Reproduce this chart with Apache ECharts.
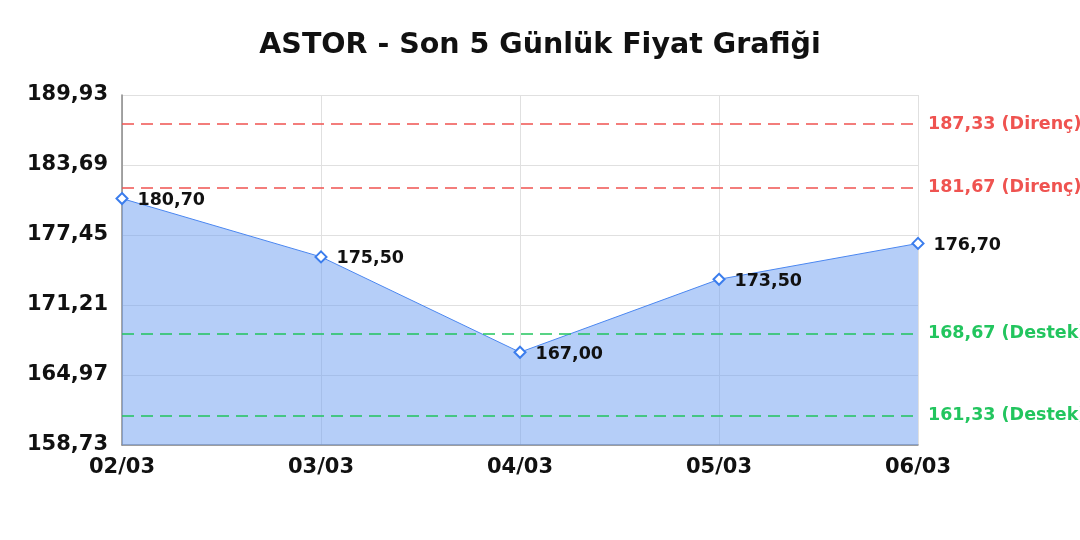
<!DOCTYPE html>
<html>
<head>
<meta charset="utf-8">
<script src="https://cdn.jsdelivr.net/npm/echarts@6/dist/echarts.min.js"></script>
<style>
  html, body { margin: 0; padding: 0; background: #fff; }
  #chart { width: 1080px; height: 540px; }
</style>
</head>
<body>
<div id="chart"></div>
<script>
// günler ve kapanış fiyatları
const days = ['02/03', '03/03', '04/03', '05/03', '06/03'];
const prices = [180.70, 175.50, 167.00, 173.50, 176.70];
const resistance = [187.33, 181.67];
const support = [168.67, 161.33];
const yMin = 158.73;
const yMax = 189.93;
const yStep = 6.24;

const FONT = 'DejaVu Sans';
const fmt = v => v.toFixed(2).replace('.', ',');

const levelLines = [];
resistance.forEach(v => levelLines.push({
  yAxis: v,
  lineStyle: { color: '#ef5350', type: [12, 7], width: 1.5, opacity: 1 },
  label: { formatter: fmt(v) + ' (Direnç)', color: '#ef5350' }
}));
support.forEach(v => levelLines.push({
  yAxis: v,
  lineStyle: { color: '#22c55e', type: [12, 7], width: 1.5, opacity: 1 },
  label: { formatter: fmt(v) + ' (Destek)', color: '#22c55e' }
}));

const chart = echarts.init(document.getElementById('chart'));
chart.setOption({
  animation: false,
  textStyle: { fontFamily: FONT },
  title: {
    text: 'ASTOR - Son 5 Günlük Fiyat Grafiği',
    left: 'center',
    top: 26,
    textStyle: { fontSize: 28.5, fontWeight: 'bold', color: '#111', fontFamily: FONT }
  },
  grid: { left: 122, right: 162, top: 95, bottom: 95 },
  xAxis: {
    type: 'category',
    data: days,
    boundaryGap: false,
    axisLine: { lineStyle: { color: '#888', width: 1.5 } },
    axisTick: { show: false },
    axisLabel: { color: '#111', fontSize: 21, fontWeight: 'bold', margin: 12, fontFamily: FONT },
    splitLine: { show: true, lineStyle: { color: '#e0e0e0' } }
  },
  yAxis: {
    type: 'value',
    min: yMin,
    max: yMax,
    interval: yStep,
    axisLine: { show: true, lineStyle: { color: '#888', width: 1.5 } },
    axisTick: { show: false },
    axisLabel: { color: '#111', fontSize: 21, fontWeight: 'bold', margin: 14, fontFamily: FONT,
      formatter: v => fmt(v) },
    splitLine: { show: true, lineStyle: { color: '#e0e0e0' } }
  },
  series: [{
    type: 'line',
    data: prices,
    symbol: 'diamond',
    symbolSize: 11,
    itemStyle: { color: '#fff', borderColor: '#3b7ded', borderWidth: 2 },
    lineStyle: { color: '#4a86f0', width: 1 },
    areaStyle: { color: 'rgba(107,157,241,0.5)', opacity: 1 },
    label: {
      show: true,
      position: 'right',
      distance: 9,
      offset: [0, 2],
      color: '#111',
      fontSize: 17.5,
      fontWeight: 'bold',
      fontFamily: FONT,
      formatter: p => fmt(p.value)
    },
    markLine: {
      silent: true,
      symbol: 'none',
      z: 10,
      label: { position: 'end', fontSize: 17.5, fontWeight: 'bold', distance: 10, fontFamily: FONT },
      data: levelLines
    }
  }]
});
</script>
</body>
</html>
